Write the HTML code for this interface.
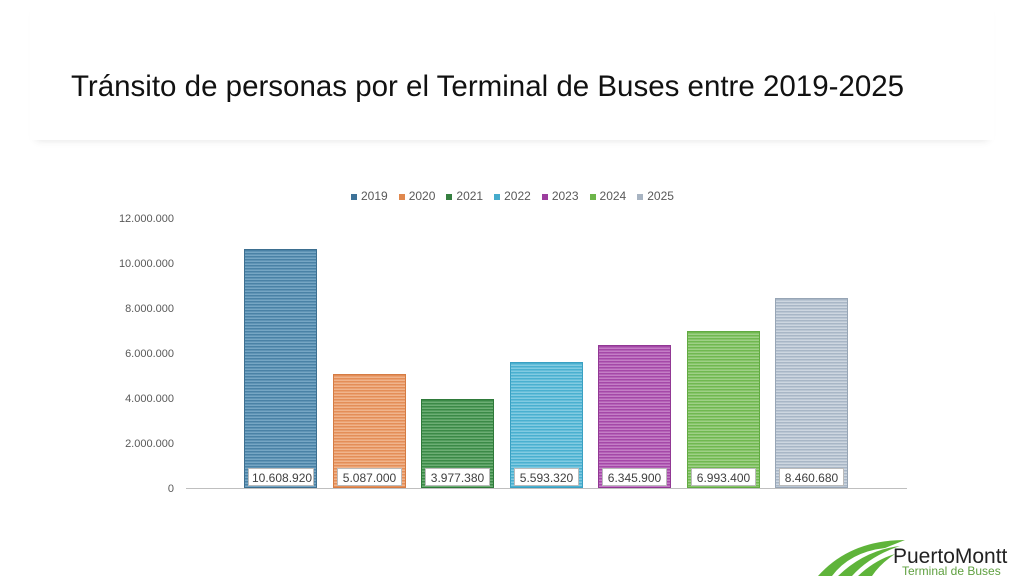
<!DOCTYPE html>
<html><head><meta charset="utf-8"><style>
body{margin:0;width:1024px;height:576px;background:#fff;position:relative;overflow:hidden;font-family:"Liberation Sans",sans-serif}
.hdr{position:absolute;left:30px;top:0;width:964px;height:140px;box-shadow:0 6px 8px -6px rgba(0,0,0,0.12)}
.title{position:absolute;left:71px;top:70px;font-size:29.5px;color:#111}
.yl{position:absolute;right:850px;font-size:11px;color:#595959;text-align:right}
.bar{position:absolute;width:73px;bottom:88px;box-sizing:border-box;border:1px solid}
.lab{position:absolute;bottom:90px;height:18px;line-height:18px;font-size:12px;color:#404040;background:#fff;border:1px solid #bbb;text-align:center;padding:0 3px;box-sizing:border-box}
.leg{position:absolute;top:189px;left:351px;font-size:12px;color:#595959;display:flex;gap:11px}
.leg span i{display:inline-block;width:6px;height:6px;margin-right:4px}
</style></head><body>
<div class="hdr"></div>
<div class="title">Tránsito de personas por el Terminal de Buses entre 2019-2025</div>
<div class="leg">
<span><i style="background:#3d7298"></i>2019</span>
<span><i style="background:#e0884e"></i>2020</span>
<span><i style="background:#357f40"></i>2021</span>
<span><i style="background:#45abcc"></i>2022</span>
<span><i style="background:#9c3d9e"></i>2023</span>
<span><i style="background:#6db54a"></i>2024</span>
<span><i style="background:#a8b4c2"></i>2025</span>
</div>
<div class="yl" style="top:213px">12.000.000</div>
<div class="yl" style="top:258px">10.000.000</div>
<div class="yl" style="top:303px">8.000.000</div>
<div class="yl" style="top:348px">6.000.000</div>
<div class="yl" style="top:393px">4.000.000</div>
<div class="yl" style="top:438px">2.000.000</div>
<div class="yl" style="top:483px">0</div>
<div style="position:absolute;left:186px;top:488px;width:721px;height:1px;background:#bfbfbf"></div>
<div class="bar" style="left:244px;height:239px;border-color:#3d6f90;background:repeating-linear-gradient(#4a82a6 0 1.5px,#76a6c4 1.5px 3px)"></div>
<div class="bar" style="left:333px;height:114px;border-color:#d57c44;background:repeating-linear-gradient(#e48e58 0 1.5px,#f0b48c 1.5px 3px)"></div>
<div class="bar" style="left:421px;height:89px;border-color:#2f7a3a;background:repeating-linear-gradient(#3b8a47 0 1.5px,#6cae74 1.5px 3px)"></div>
<div class="bar" style="left:510px;height:126px;border-color:#3aa0c2;background:repeating-linear-gradient(#4ab0d0 0 1.5px,#82cbe2 1.5px 3px)"></div>
<div class="bar" style="left:598px;height:143px;border-color:#913894;background:repeating-linear-gradient(#a548a8 0 1.5px,#c47ec6 1.5px 3px)"></div>
<div class="bar" style="left:687px;height:157px;border-color:#62aa42;background:repeating-linear-gradient(#70b850 0 1.5px,#9ed086 1.5px 3px)"></div>
<div class="bar" style="left:775px;height:190px;border-color:#97a5b5;background:repeating-linear-gradient(#a8b6c6 0 1.5px,#cdd6e0 1.5px 3px)"></div>
<div class="lab" style="left:248px;width:66px">10.608.920</div>
<div class="lab" style="left:337px;width:65px">5.087.000</div>
<div class="lab" style="left:425px;width:65px">3.977.380</div>
<div class="lab" style="left:514px;width:65px">5.593.320</div>
<div class="lab" style="left:602px;width:65px">6.345.900</div>
<div class="lab" style="left:691px;width:65px">6.993.400</div>
<div class="lab" style="left:779px;width:65px">8.460.680</div>
<svg style="position:absolute;left:810px;top:530px" width="214" height="46">
<path d="M8 46 Q40 10 95 10 L75 18 Q40 22 22 46Z" fill="#5fb43a"/>
<path d="M28 46 Q55 20 90 16 Q60 26 42 46Z" fill="#5fb43a"/>
<path d="M48 46 Q65 30 85 24 Q70 34 62 46Z" fill="#5fb43a"/>
<text x="83" y="33" font-family="Liberation Sans" font-size="21" fill="#222">PuertoMontt</text>
<text x="92" y="45" font-family="Liberation Sans" font-size="12" fill="#5fa040">Terminal de Buses</text>
</svg>
</body></html>
